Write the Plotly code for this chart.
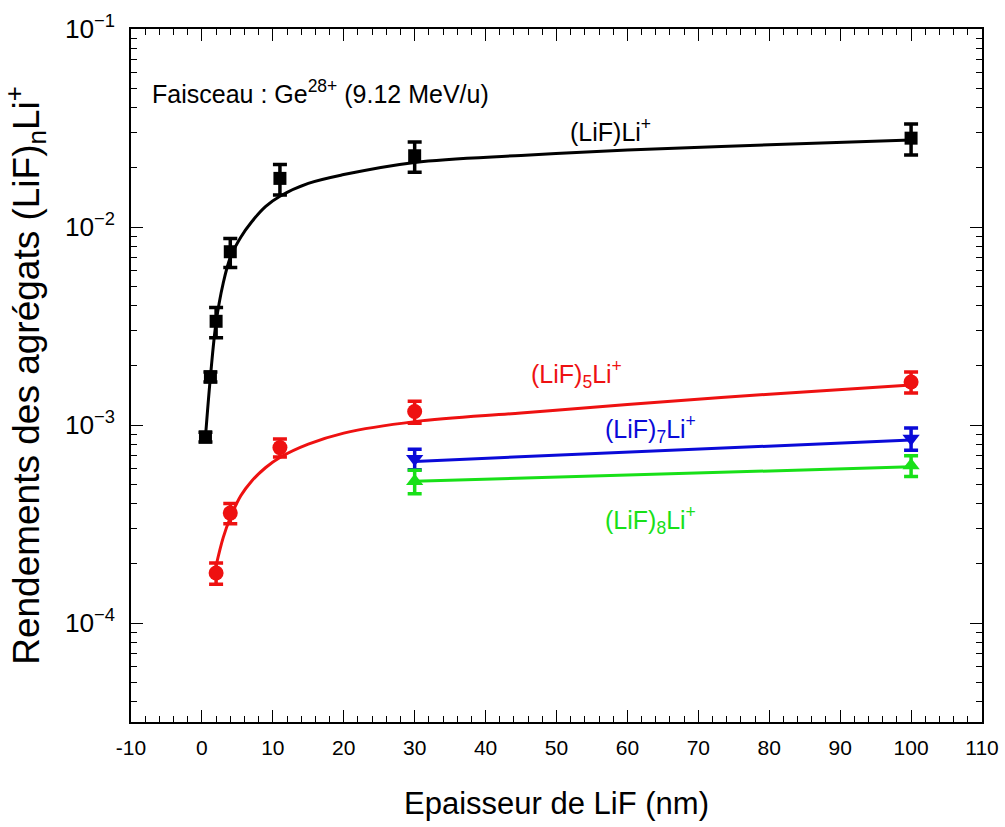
import plotly.graph_objects as go

x_n1 = [0.5, 1.2, 2, 4, 11, 30, 100]
y_n1 = [8.7e-4, 1.75e-3, 3.34e-3, 7.5e-3, 1.76e-2, 2.29e-2, 2.81e-2]
e_n1 = [0.5e-4, 1.0e-4, 0.58e-3, 1.25e-3, 0.31e-2, 0.40e-2, 0.50e-2]

x_n5 = [2, 4, 11, 30, 100]
y_n5 = [1.79e-4, 3.59e-4, 7.69e-4, 1.17e-3, 1.65e-3]
e_n5 = [0.22e-4, 0.42e-4, 0.8e-4, 0.15e-3, 0.2e-3]

x_n7 = [30, 100]
y_n7 = [6.75e-4, 8.55e-4]
e_n7 = [0.8e-4, 1.1e-4]

x_n8 = [30, 100]
y_n8 = [5.2e-4, 6.25e-4]
e_n8 = [0.7e-4, 0.75e-4]

# ---- fitted curves ----
fx_n1 = [0.5, 1.2, 2, 3, 4, 5.5, 7, 9, 11, 15, 20, 30, 45, 60, 80, 100]
fy_n1 = [8.7e-4, 1.75e-3, 3.3e-3, 5.2e-3, 7.0e-3, 8.9e-3, 1.06e-2, 1.27e-2, 1.43e-2,
         1.66e-2, 1.84e-2, 2.12e-2, 2.3e-2, 2.45e-2, 2.6e-2, 2.75e-2]

fx_n5 = [2, 3, 4, 5.5, 7, 9, 11, 15, 20, 30, 45, 60, 80, 100]
fy_n5 = [1.95e-4, 2.7e-4, 3.4e-4, 4.4e-4, 5.2e-4, 6.1e-4, 6.85e-4, 8.0e-4, 9.1e-4,
         1.04e-3, 1.15e-3, 1.27e-3, 1.43e-3, 1.59e-3]

fx_n7 = [30, 100]
fy_n7 = [6.55e-4, 8.4e-4]

fx_n8 = [30, 100]
fy_n8 = [5.2e-4, 6.15e-4]

x_ticks = [-10, 0, 10, 20, 30, 40, 50, 60, 70, 80, 90, 100, 110]
x_ticklabels = ["-10", "0", "10", "20", "30", "40", "50", "60", "70", "80", "90", "100", "110"]

BLACK = "#000000"
RED = "#ee1111"
BLUE = "#0a0ad8"
GREEN = "#18e018"
FONT = "Liberation Sans, Arial, sans-serif"

fig = go.Figure()

series = [
    (fx_n1, fy_n1, x_n1, y_n1, e_n1, BLACK, "square", 13),
    (fx_n5, fy_n5, x_n5, y_n5, e_n5, RED, "circle", 15),
    (fx_n7, fy_n7, x_n7, y_n7, e_n7, BLUE, "triangle-down", 15),
    (fx_n8, fy_n8, x_n8, y_n8, e_n8, GREEN, "triangle-up", 15),
]

for fx, fy, x, y, e, col, sym, sz in series:
    fig.add_trace(go.Scatter(
        x=fx, y=fy, mode="lines", line=dict(color=col, width=3, shape="spline", smoothing=1.0),
        showlegend=False, hoverinfo="skip"))
for fx, fy, x, y, e, col, sym, sz in series:
    fig.add_trace(go.Scatter(
        x=x, y=y, mode="markers",
        marker=dict(symbol=sym, size=sz, color=col, line=dict(width=0)),
        error_y=dict(type="data", array=e, visible=True, color=col, thickness=3.5, width=7),
        showlegend=False))

annots = [
    (-7.3, -1.32, "Faisceau : Ge<sup>28+</sup> (9.12 MeV/u)", BLACK, "left"),
    (57.6, -1.51, "(LiF)Li<sup>+</sup>", BLACK, "center"),
    (52.8, -2.74, "(LiF)<sub>5</sub>Li<sup>+</sup>", RED, "center"),
    (63.2, -3.02, "(LiF)<sub>7</sub>Li<sup>+</sup>", BLUE, "center"),
    (63.2, -3.48, "(LiF)<sub>8</sub>Li<sup>+</sup>", GREEN, "center"),
]
for ax_, ay_, txt, col, anc in annots:
    fig.add_annotation(x=ax_, y=ay_, xref="x", yref="y", text=txt, showarrow=False,
                       xanchor=anc, yanchor="middle",
                       font=dict(family=FONT, size=25, color=col))

axis_common = dict(
    showline=True, linecolor="black", linewidth=1.5, mirror="ticks",
    ticks="inside", ticklen=12, tickwidth=1.2, tickcolor="black",
    showgrid=False, zeroline=False, automargin=False, ticklabeloverflow="allow",
    tickfont=dict(family=FONT, size=21, color="black"),
)

fig.update_xaxes(
    range=[-10, 110], tickvals=x_ticks, ticktext=x_ticklabels,
    minor=dict(ticks="inside", ticklen=6, dtick=2, tick0=0, tickcolor="black", tickwidth=1.2, showgrid=False),
    title=dict(text="Epaisseur de LiF (nm)", font=dict(family=FONT, size=31, color="black"), standoff=34),
    ticklabelstandoff=6,
    **axis_common)

fig.update_yaxes(
    type="log", range=[-4.5, -1], dtick=1, exponentformat="power",
    minor=dict(ticks="inside", ticklen=6, tickcolor="black", tickwidth=1.2, showgrid=False),
    title=dict(text="Rendements des agrégats (LiF)<sub>n</sub>Li<sup>+</sup>",
               font=dict(family=FONT, size=37, color="black"), standoff=20),
    ticklabelstandoff=10,
    **axis_common)

fig.update_layout(
    width=1005, height=827,
    margin=dict(l=131, r=23, t=29, b=105),
    paper_bgcolor="white", plot_bgcolor="white",
    font=dict(family=FONT, color="black"),
)

# remove the default 8 px page margin so the figure fills the window exactly
fig.write_html("out.html",
               config={"displayModeBar": False},
               post_script="document.body.style.margin='0';document.body.style.overflow='hidden';")
